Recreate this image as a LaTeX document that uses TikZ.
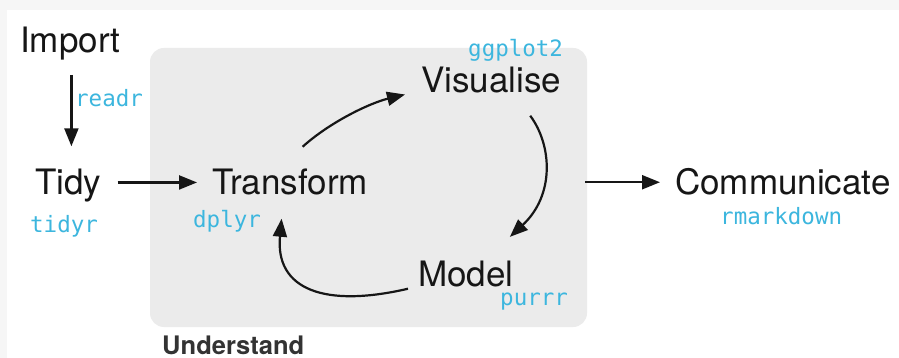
\documentclass[tikz,border=0pt]{standalone}
\usepackage{fontspec}
\setmainfont{TeX Gyre Heros}
\newfontfamily\codefont{DejaVu Sans Mono}
\usetikzlibrary{arrows.meta,calc}
\definecolor{inkdark}{RGB}{22,22,22}
\definecolor{pkgcyan}{RGB}{60,182,222}
\definecolor{panelgray}{RGB}{235,235,235}
\definecolor{framegray}{RGB}{246,246,246}
\definecolor{labelgray}{RGB}{51,51,51}
\tikzset{
  stage/.style={inner sep=0pt, anchor=base west, text=inkdark,
    font=\fontsize{35}{41}\selectfont},
  pkg/.style={inner sep=0pt, anchor=base west, text=pkgcyan,
    font=\codefont\fontsize{22.5}{26}\selectfont},
  flow/.style={draw=inkdark, line width=2.2pt,
    -{Triangle[length=18pt,width=14pt]}},
}
\begin{document}
\begin{tikzpicture}[x=1pt,y=-1pt]
  \useasboundingbox (0,0) rectangle (899,358);
  % page frame
  \fill[framegray] (0,0) rectangle (899,358);
  \fill[white] (7,10) rectangle (899,358);

  % the "Understand" panel
  \node[fill=panelgray, rounded corners=14pt, minimum width=437pt,
        minimum height=279pt, inner sep=0pt] (panel) at (368.5,187.5) {};
  \node[inner sep=0pt, anchor=base west, text=labelgray,
        font=\bfseries\fontsize{25.5}{30}\selectfont] (understand) at (162,354) {Understand};

  % stages
  \node[stage] (import) at (20,53) {Import};
  \node[stage] (tidy) at (35,195) {Tidy};
  \node[stage] (transform) at (212,195) {Transform};
  \node[stage] (visualise) at (421,93) {Visualise};
  \node[stage] (model) at (418,286) {Model};
  \node[stage] (communicate) at (675,195) {Communicate};

  % packages
  \node[pkg] (readr) at (75,107) {readr};
  \node[pkg] (tidyr) at (30,232) {tidyr};
  \node[pkg] (dplyr) at (193,227) {dplyr};
  \node[pkg] (ggplot) at (468,57) {ggplot2};
  \node[pkg] (purrr) at (500,305) {purrr};
  \node[pkg] (rmarkdown) at (720,225) {rmarkdown};

  % straight connectors
  \draw[flow, shorten <=14pt, shorten >=23pt]
    ([xshift=1pt]import.south) -- ([xshift=1pt]import.south |- tidy.north);
  \draw[flow, shorten <=16pt, shorten >=15pt]
    (tidy.east |- transform.west) -- (transform.west);
  \draw[flow, shorten <=-2pt, shorten >=15pt]
    (panel.east |- communicate.west) -- (communicate.west);

  % the modelling cycle
  \draw[flow] ($(transform.north)+(12.5,-22.4)$)
    .. controls (330,122) and (370,103) .. ($(visualise.west)+(-16,14)$);
  \draw[flow] ($(visualise.south)+(39,22)$)
    .. controls (552,145) and (555,195) .. ($(model.north)+(44,-23.4)$);
  \draw[flow] ($(model.south west)+(-10,2)$)
    .. controls (325,308) and (275,290) .. ($(transform.south)+(-8.5,23)$);
\end{tikzpicture}
\end{document}
